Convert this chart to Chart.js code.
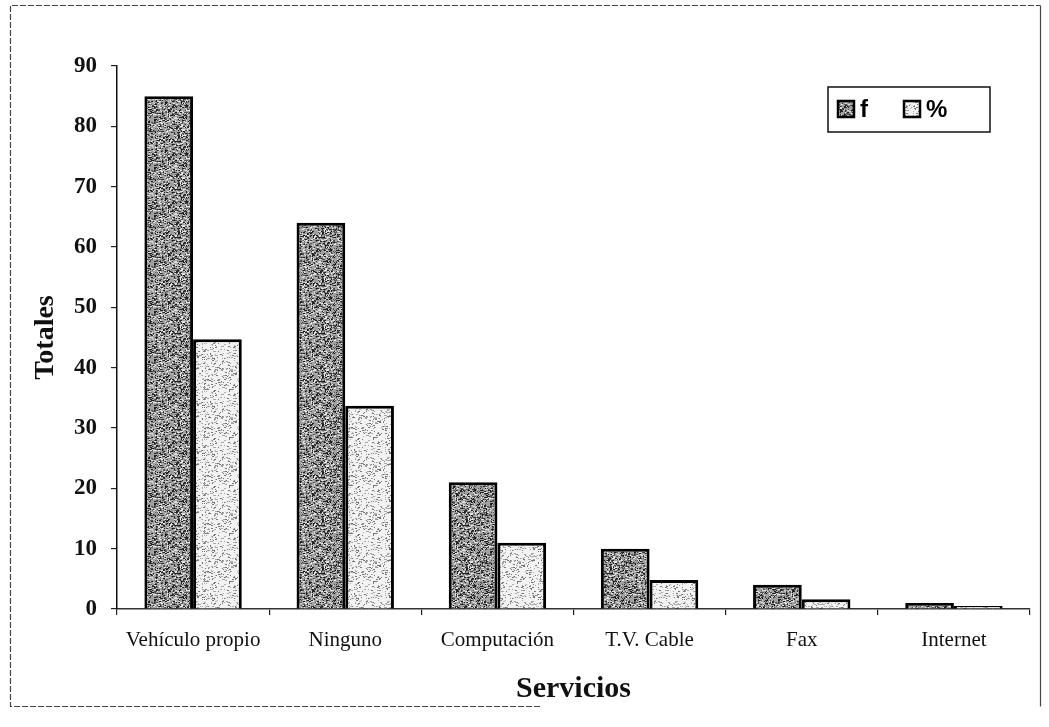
<!DOCTYPE html>
<html>
<head>
<meta charset="utf-8">
<script src="https://cdn.jsdelivr.net/npm/chart.js@4.4.1/dist/chart.umd.min.js"></script>
<style>
  html, body { margin: 0; padding: 0; background: #fff; }
  #wrap { position: relative; width: 1049px; height: 727px; }
</style>
</head>
<body>
<div id="wrap"><canvas id="chart" width="1049" height="727"></canvas></div>
<script>
// ── Data ───────────────────────────────────────────────
const categories = ['Vehículo propio', 'Ninguno', 'Computación', 'T.V. Cable', 'Fax', 'Internet'];
const frecuencia = [85, 64, 21, 10, 4, 1];
const porcentaje = [44.7, 33.7, 11, 4.8, 1.6, 0.5];
const yTicks = [0, 10, 20, 30, 40, 50, 60, 70, 80, 90];

const SERIF = '"Liberation Serif", "DejaVu Serif", serif';
const SANS = '"Liberation Sans", Arial, sans-serif';

// speckled fill, like the scanned shading (deterministic texture)
function speckle(base, dots, density) {
  const c = document.createElement('canvas');
  c.width = c.height = 48;
  const g = c.getContext('2d');
  g.fillStyle = base; g.fillRect(0, 0, 48, 48);
  let s = 12345;
  const next = () => (s = (s * 1103515245 + 12345) & 0x7fffffff) / 0x7fffffff;
  for (let i = 0; i < 48 * 48 * density; i++) {
    g.fillStyle = dots[Math.floor(next() * dots.length)];
    g.fillRect(Math.floor(next() * 48), Math.floor(next() * 48), 1 + (next() > 0.6 ? 1 : 0), 1);
  }
  return g.createPattern(c, 'repeat');
}
const darkFill = speckle('#a0a0a0', ['#222', '#555', '#e0e0e0'], 0.5);
const lightFill = speckle('#f2f2f2', ['#777', '#aaa'], 0.16);

// frame around the figure + boxed legend
const framePlugin = {
  id: 'frame',
  beforeDraw(chart) {
    const ctx = chart.ctx;
    ctx.save();
    ctx.fillStyle = '#fff';
    ctx.fillRect(0, 0, chart.width, chart.height);
    ctx.strokeStyle = '#444';
    ctx.lineWidth = 1.2;
    ctx.setLineDash([6, 2]);
    ctx.beginPath();
    ctx.moveTo(540, 706.5); ctx.lineTo(10.5, 706.5); ctx.lineTo(10.5, 5.5); ctx.lineTo(1040.5, 5.5);
    ctx.stroke();
    ctx.setLineDash([]);
    ctx.beginPath();
    ctx.moveTo(1040.5, 5.5); ctx.lineTo(1040.5, 706.5);
    ctx.stroke();
    ctx.restore();
  },
  afterDraw(chart) {
    const ctx = chart.ctx;
    const { right, top } = chart.chartArea;
    const x0 = right - 202, y0 = top + 21, w = 162, h = 45;
    ctx.save();
    ctx.fillStyle = '#fff';
    ctx.fillRect(x0, y0, w, h);
    ctx.strokeStyle = '#111';
    ctx.lineWidth = 1.5;
    ctx.strokeRect(x0, y0, w, h);
    ctx.font = 'bold 24px ' + SANS;
    ctx.textBaseline = 'middle';
    const items = chart.data.datasets;
    const xs = [x0 + 10, x0 + 76];
    items.forEach((ds, i) => {
      ctx.fillStyle = ds.backgroundColor;
      ctx.fillRect(xs[i], y0 + 14, 16, 16);
      ctx.strokeStyle = '#000';
      ctx.lineWidth = 2.5;
      ctx.strokeRect(xs[i], y0 + 14, 16, 16);
      ctx.fillStyle = '#000';
      ctx.fillText(ds.label, xs[i] + 22, y0 + 23);
    });
    ctx.restore();
  }
};

new Chart(document.getElementById('chart'), {
  type: 'bar',
  data: {
    labels: categories,
    datasets: [
      { label: 'f', data: frecuencia, backgroundColor: darkFill, borderColor: '#000', borderWidth: 3,
        categoryPercentage: 0.64, barPercentage: 1.0 },
      { label: '%', data: porcentaje, backgroundColor: lightFill, borderColor: '#000', borderWidth: 3,
        categoryPercentage: 0.64, barPercentage: 1.0 },
    ]
  },
  options: {
    responsive: false,
    animation: false,
    layout: { padding: { left: 0, top: 66, right: 19, bottom: 0 } },
    plugins: { legend: { display: false }, tooltip: { enabled: false } },
    scales: {
      x: {
        afterFit: s => { s.height = 118; },
        grid: { display: true, drawOnChartArea: false, drawTicks: true, tickLength: 6, color: '#222', lineWidth: 1.2 },
        border: { display: true, color: '#333', width: 1.5, dash: [5, 2] },
        ticks: { color: '#111', padding: 13, font: { family: SERIF, size: 21 }, maxRotation: 0, autoSkip: false },
        title: { display: true, text: 'Servicios', color: '#111', font: { family: SERIF, size: 30, weight: 'bold' },
                 padding: { top: 0, bottom: 20 } }
      },
      y: {
        min: 0, max: 90,
        afterFit: s => { s.width = 117; },
        afterBuildTicks: s => { s.ticks = yTicks.map(v => ({ value: v })); },
        grid: { display: true, drawOnChartArea: false, drawTicks: true, tickLength: 6, color: '#222', lineWidth: 1.2 },
        border: { display: true, color: '#111', width: 1.5 },
        ticks: { color: '#111', padding: 14, font: { family: SERIF, size: 23, weight: 'bold' } },
        title: { display: true, text: 'Totales', color: '#111', font: { family: SERIF, size: 28, weight: 'bold' },
                 padding: { top: 29, bottom: 0 } }
      }
    }
  },
  plugins: [framePlugin]
});
</script>
</body>
</html>
